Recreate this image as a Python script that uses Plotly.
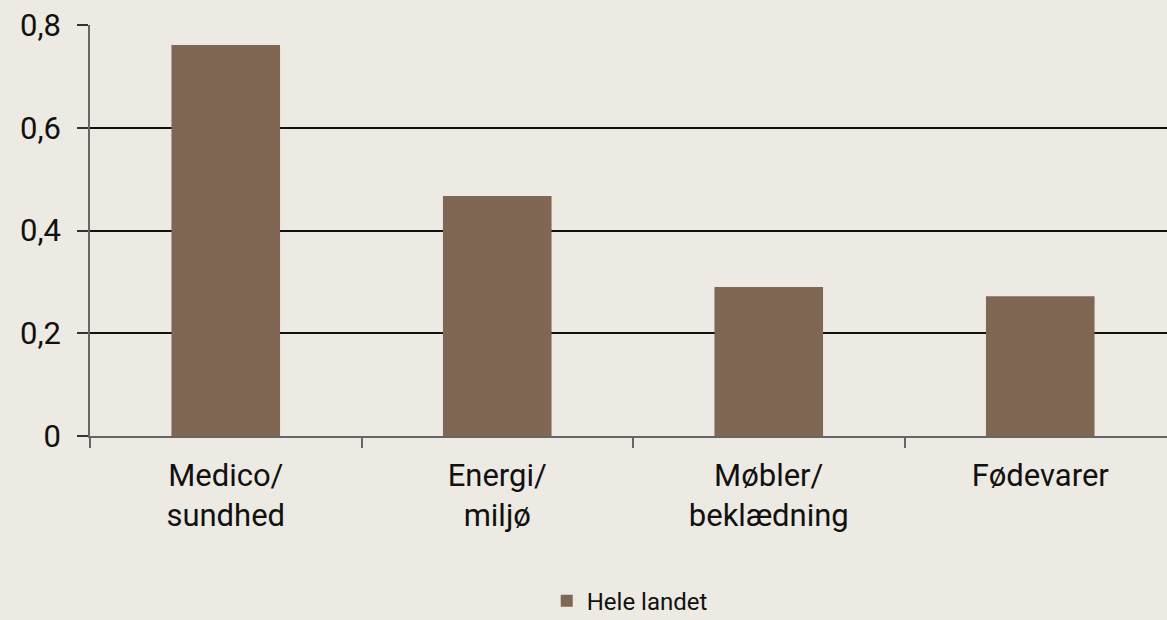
import plotly.graph_objects as go

categories = ["Medico/<br>sundhed", "Energi/<br>miljø", "Møbler/<br>beklædning", "Fødevarer"]
values = [0.761, 0.467, 0.290, 0.272]
series_name = "Hele landet"
y_ticks = [0, 0.2, 0.4, 0.6, 0.8]
y_tick_labels = ["0", "0,2", "0,4", "0,6", "0,8"]

BG = "#EDEAE3"
BAR = "#7F6753"
FONT = "Roboto, Open Sans, sans-serif"

fig = go.Figure(go.Bar(x=categories, y=values, name=series_name,
                       marker=dict(color=BAR, line=dict(width=0)),
                       showlegend=True))

fig.update_layout(
    width=1176, height=620,
    paper_bgcolor=BG, plot_bgcolor=BG,
    margin=dict(l=90, r=0, t=25, b=184, autoexpand=False),
    bargap=0.6,
    font=dict(family=FONT, color="#111111", size=30),
    legend=dict(orientation="h", x=0.497, xanchor="center", y=-0.402, yanchor="middle",
                font=dict(size=24), bgcolor="rgba(0,0,0,0)", itemwidth=30,
                borderwidth=0),
    xaxis=dict(showline=True, linecolor="#666666", linewidth=1.5,
               ticks="outside", tickson="boundaries", ticklen=10, tickcolor="#666666",
               tickwidth=1.5, tickfont=dict(size=31), showgrid=False,
               ticklabelstandoff=11),
    yaxis=dict(range=[0, 0.8], tickvals=y_ticks, ticktext=y_tick_labels,
               showline=True, linecolor="#666666", linewidth=1.5,
               ticks="outside", ticklen=11, tickcolor="#333333", tickwidth=1.5,
               showgrid=True, gridcolor="#111111", gridwidth=1.5, zeroline=False,
               tickfont=dict(size=31), ticklabelstandoff=10),
)

fig.write_html("out.html", config={"displayModeBar": False},
               post_script="document.body.style.margin='0';document.body.style.overflow='hidden';")
